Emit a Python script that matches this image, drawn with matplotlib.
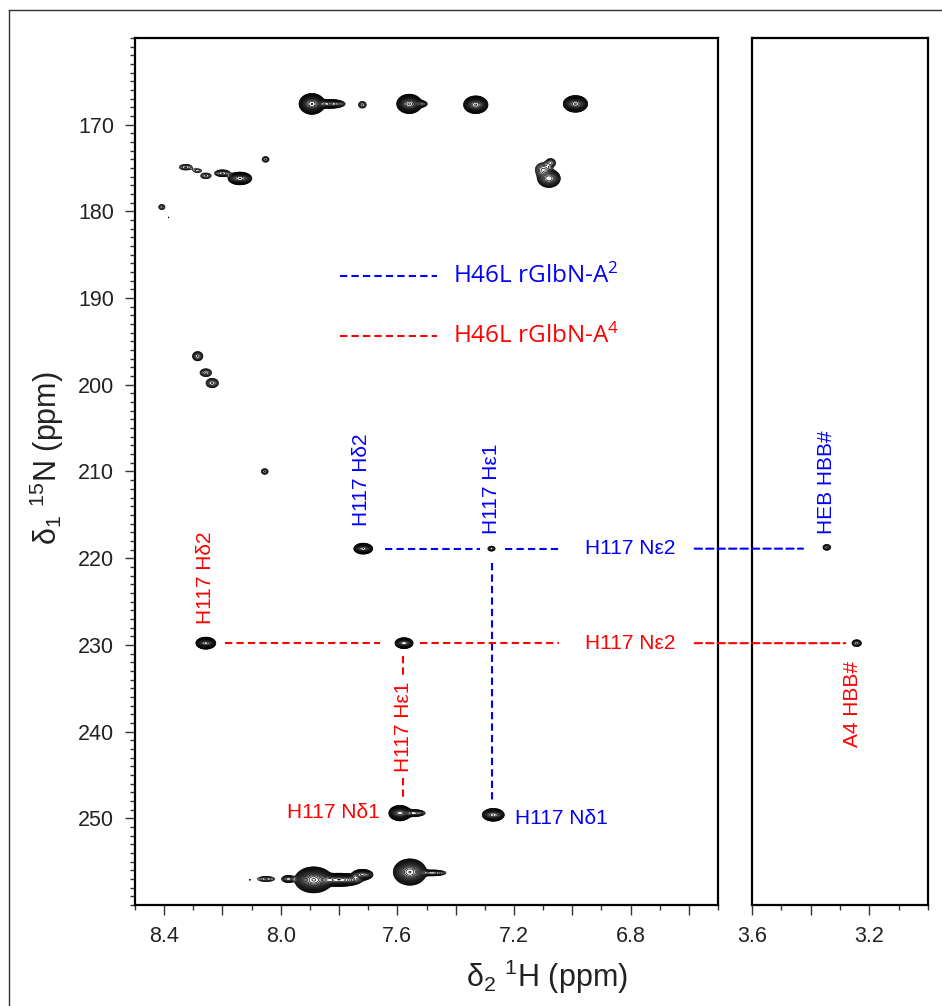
import numpy as np
import matplotlib
matplotlib.use('Agg')
import matplotlib.pyplot as plt
from matplotlib.patches import ConnectionPatch
from matplotlib.lines import Line2D
from matplotlib.ticker import MultipleLocator

plt.rcParams['font.family'] = ['Liberation Sans', 'DejaVu Sans']
plt.rcParams['mathtext.default'] = 'regular'

# cross peaks in the 8.5-6.5 ppm window: 1H shift, 15N shift, height, 1H width, 15N width
peak_h = [7.893, 7.83, 7.72, 7.559, 7.52, 7.331, 6.989,
          8.326, 8.286, 8.257, 8.20, 8.14, 8.052, 7.08, 7.074, 7.10, 8.408, 8.385,
          8.285, 8.257, 8.235, 8.055,
          8.257, 7.577, 7.717, 7.277, 7.591, 7.545, 7.271,
          8.106, 8.05, 7.974, 7.887, 7.80, 7.72, 7.557, 7.48]
peak_n = [167.6, 167.6, 167.7, 167.6, 167.6, 167.7, 167.6,
          174.9, 175.3, 175.9, 175.6, 176.2, 174.0, 176.2, 174.4, 175.2, 179.5, 180.7,
          196.7, 198.6, 199.8, 210.0,
          229.8, 229.8, 218.9, 218.9, 249.4, 249.4, 249.6,
          257.1, 257.0, 257.0, 257.1, 257.1, 256.5, 256.2, 256.3]
peak_amp = [150, 15, 3, 120, 6, 90, 90,
            3, 2, 3, 5, 40, 3, 30, 4, 5, 2.5, 1.15,
            5, 4, 5, 3,
            60, 30, 40, 3.5, 80, 8, 40,
            1.2, 3, 6, 200, 40, 20, 150, 6]
peak_wh = [0.014, 0.022, 0.009, 0.014, 0.012, 0.014, 0.014,
           0.015, 0.012, 0.012, 0.015, 0.015, 0.008, 0.015, 0.010, 0.015, 0.008, 0.004,
           0.010, 0.012, 0.012, 0.008,
           0.012, 0.012, 0.012, 0.008, 0.013, 0.020, 0.014,
           0.004, 0.020, 0.012, 0.020, 0.030, 0.015, 0.018, 0.025]
peak_wn = [0.38, 0.22, 0.26, 0.36, 0.20, 0.34, 0.32,
           0.22, 0.18, 0.22, 0.22, 0.27, 0.22, 0.40, 0.30, 0.45, 0.22, 0.10,
           0.30, 0.27, 0.30, 0.22,
           0.24, 0.24, 0.23, 0.18, 0.30, 0.20, 0.27,
           0.10, 0.20, 0.22, 0.46, 0.28, 0.25, 0.48, 0.18]

# HBB methyl cross peaks in the 3.6-3.0 ppm window
hbb_h = [3.345, 3.243]
hbb_n = [218.75, 229.8]
hbb_amp = [4, 5]
hbb_wh = [0.008, 0.009]
hbb_wn = [0.2, 0.22]

# assignments
a2_ne2 = 218.9      # H46L rGlbN-A2, H117 Ne2
a4_ne2 = 229.8      # H46L rGlbN-A4, H117 Ne2
a2_he1 = 7.277
a4_he1 = 7.58
a2_hd2 = 7.717
a4_hd2 = 8.257

x1_ticks = [8.4, 8.2, 8.0, 7.8, 7.6, 7.4, 7.2, 7.0, 6.8, 6.6]
x1_labels = ['8.4', '', '8.0', '', '7.6', '', '7.2', '', '6.8', '']
x2_ticks = [3.6, 3.4, 3.2]
x2_labels = ['3.6', '', '3.2']
y_ticks = [170, 180, 190, 200, 210, 220, 230, 240, 250]

blue = '#0000ff'
red = '#ff0000'
dash = (0, (3.5, 2))


def spectrum(h, n, hs, ns, amps, whs, wns):
    H, N = np.meshgrid(h, n)
    Z = np.zeros_like(H)
    for x, y, a, wx, wy in zip(hs, ns, amps, whs, wns):
        Z += a * np.exp(-0.5 * ((H - x) / wx) ** 2 - 0.5 * ((N - y) / wy) ** 2)
    return H, N, Z


fig = plt.figure(figsize=(9.42, 10.06), dpi=100)
ax1 = fig.add_axes([135 / 942, 1 - 905 / 1006, 583 / 942, 867 / 1006])
ax2 = fig.add_axes([752 / 942, 1 - 905 / 1006, 176 / 942, 867 / 1006])

levels = 1.0 * 1.3 ** np.arange(0, 22)
n_axis = np.linspace(160, 260, 1100)

H, N, Z = spectrum(np.linspace(6.5, 8.5, 1500), n_axis,
                   peak_h, peak_n, peak_amp, peak_wh, peak_wn)
ax1.contour(H, N, Z, levels=levels, colors='black', linewidths=0.5)

H, N, Z = spectrum(np.linspace(3.0, 3.6, 500), n_axis,
                   hbb_h, hbb_n, hbb_amp, hbb_wh, hbb_wn)
ax2.contour(H, N, Z, levels=levels, colors='black', linewidths=0.5)

ax1.set_xlim(8.5, 6.5)
ax1.set_ylim(260, 160)
ax2.set_xlim(3.6, 3.0)
ax2.set_ylim(260, 160)

# ticks
ax1.set_xticks(x1_ticks)
ax1.set_xticklabels(x1_labels)
ax1.xaxis.set_minor_locator(MultipleLocator(0.1))
ax1.set_yticks(y_ticks)
ax1.yaxis.set_minor_locator(MultipleLocator(1))
ax2.set_xticks(x2_ticks)
ax2.set_xticklabels(x2_labels)
ax2.xaxis.set_minor_locator(MultipleLocator(0.1))
ax2.set_yticks([])
for ax in (ax1, ax2):
    ax.tick_params(which='major', direction='out', length=7, width=1,
                   labelsize=15.5, pad=8, color='#333333', labelcolor='#222222')
    ax.tick_params(which='minor', direction='out', length=3.5, width=1, color='#333333')
    for s in ax.spines.values():
        s.set_linewidth(1.6)
ax2.tick_params(axis='y', which='both', left=False)

# dashed assignment lines
ax1.plot([7.643, 7.317], [a2_ne2, a2_ne2], color=blue, ls=dash, lw=1.5)
ax1.plot([7.232, 7.044], [a2_ne2, a2_ne2], color=blue, ls=dash, lw=1.5)
ax1.plot([a2_he1, a2_he1], [220.6, 247.9], color=blue, ls=dash, lw=1.5)
ax1.plot([8.19, 7.66], [a4_ne2, a4_ne2], color=red, ls=dash, lw=1.5)
ax1.plot([7.523, 7.044], [a4_ne2, a4_ne2], color=red, ls=dash, lw=1.5)
ax1.plot([a4_he1, a4_he1], [231.3, 233.6], color=red, ls=dash, lw=1.5)
ax1.plot([a4_he1, a4_he1], [245.4, 247.8], color=red, ls=dash, lw=1.5)

for yv, xb, c in [(a2_ne2, 3.426, blue), (a4_ne2, 3.282, red)]:
    con = ConnectionPatch(xyA=(6.58, yv), coordsA=ax1.transData,
                          xyB=(xb, yv), coordsB=ax2.transData,
                          color=c, ls=dash, lw=1.5)
    fig.add_artist(con)

# legend
ax1.plot([7.797, 7.465], [187.5, 187.5], color=blue, ls=dash, lw=1.5)
ax1.plot([7.797, 7.465], [194.4, 194.4], color=red, ls=dash, lw=1.5)
lfont = ['Open Sans', 'DejaVu Sans']
ax1.text(7.41, 187.5, 'H46L rGlbN-A$^2$', color=blue, fontsize=17.5,
         family=lfont, va='center')
ax1.text(7.41, 194.4, 'H46L rGlbN-A$^4$', color=red, fontsize=17.5,
         family=lfont, va='center')

# peak labels
fs = 15
ax1.text(a2_hd2 + 0.005, 216.3, 'H117 Hδ2', color=blue, fontsize=fs,
         rotation=90, ha='center', va='bottom')
ax1.text(a2_he1, 217.2, 'H117 Hε1', color=blue, fontsize=fs,
         rotation=90, ha='center', va='bottom')
ax1.text(6.80, a2_ne2, 'H117 Nε2', color=blue, fontsize=fs,
         ha='center', va='center')
ax1.text(7.198, 250.0, 'H117 Nδ1', color=blue, fontsize=fs,
         ha='left', va='center')
ax2.text(3.345, 217.2, 'HEB HBB#', color=blue, fontsize=fs,
         rotation=90, ha='center', va='bottom')

ax1.text(a4_hd2, 227.6, 'H117 Hδ2', color=red, fontsize=fs,
         rotation=90, ha='center', va='bottom')
ax1.text(a4_he1, 239.4, 'H117 Hε1', color=red, fontsize=fs,
         rotation=90, ha='center', va='center')
ax1.text(6.80, a4_ne2, 'H117 Nε2', color=red, fontsize=fs,
         ha='center', va='center')
ax1.text(7.66, 249.3, 'H117 Nδ1', color=red, fontsize=fs,
         ha='right', va='center')
ax2.text(3.258, 231.9, 'A4 HBB#', color=red, fontsize=fs,
         rotation=90, ha='center', va='top')

# axis titles
fig.text(0.581, 0.029, 'δ$_2$ $^1$H (ppm)', fontsize=22, ha='center', va='center',
         color='#222222')
fig.text(0.050, 0.545, 'δ$_1$ $^{15}$N (ppm)', fontsize=22, ha='center', va='center',
         rotation=90, color='#222222')

# outer frame
fig.add_artist(Line2D([9 / 942, 9 / 942], [0, 1 - 10 / 1006],
                      transform=fig.transFigure, color='#333333', lw=1))
fig.add_artist(Line2D([9 / 942, 1], [1 - 10 / 1006, 1 - 10 / 1006],
                      transform=fig.transFigure, color='#333333', lw=1))

fig.savefig('out.png', dpi=100)
